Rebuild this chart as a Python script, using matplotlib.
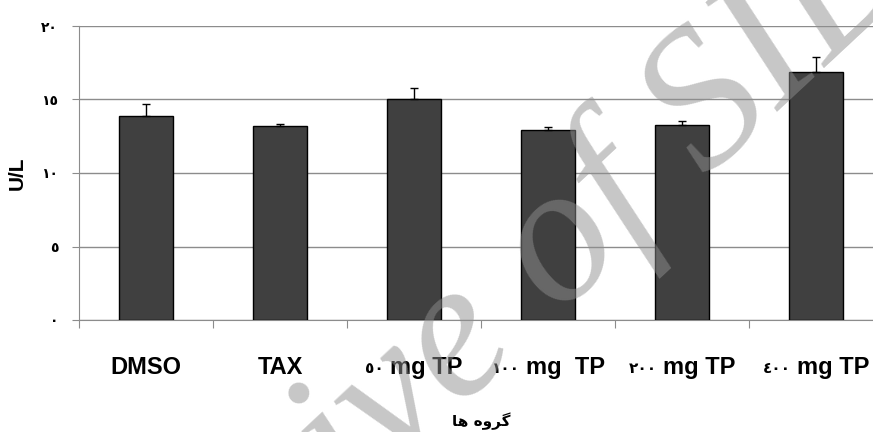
import numpy as np
import matplotlib.pyplot as plt
from matplotlib.transforms import offset_copy

# groups and enzyme activity (U/L), upper error only
groups = ["DMSO", "TAX", "٥٠ mg TP", "١٠٠ mg  TP", "٢٠٠ mg TP", "٤٠٠ mg TP"]
means = [13.9, 13.2, 15.0, 12.95, 13.25, 16.85]
errs = [0.8, 0.15, 0.75, 0.15, 0.3, 1.05]
yticks = [0, 5, 10, 15, 20]
ytick_labels = ["٠", "٥", "١٠", "١٥", "٢٠"]

# "گروه ها" written in visual order with presentation forms (no shaping in mpl)
xtitle = "\uFE8E\uFEEB \uFEE9\uFEED\uFEAE\uFB94"

grid_col = "#8c8c8c"
bar_col = "#404040"
arabic_digits = "٠١٢٣٤٥٦٧٨٩"

fig = plt.figure(figsize=(8.73, 4.32), dpi=100)
ax = fig.add_axes([79 / 873, 1 - 320 / 432, 804 / 873, 294 / 432])

x = np.arange(len(groups))
ax.bar(x, means, width=0.4, color=bar_col, edgecolor="black", linewidth=1, zorder=3)
ax.errorbar(x, means, yerr=[np.zeros(len(errs)), errs], fmt="none",
            ecolor="black", elinewidth=1, capsize=3, capthick=1, zorder=4)

ax.set_xlim(-0.5, 5.5)
ax.set_ylim(0, 20)
ax.set_yticks(yticks)
ax.set_yticklabels(ytick_labels, fontsize=10, fontweight="bold", family="DejaVu Sans")
ax.yaxis.grid(True, color=grid_col, linewidth=1, zorder=0)
ax.tick_params(axis="y", length=5, color=grid_col, pad=10)

# category boundary ticks, labels drawn by hand below
ax.set_xticks(np.arange(-0.5, 5.6, 1))
ax.set_xticklabels([])
ax.tick_params(axis="x", length=6, color=grid_col)

for s in ["top", "right"]:
    ax.spines[s].set_visible(False)
for s in ["left", "bottom"]:
    ax.spines[s].set_color(grid_col)

# group labels: small arabic-indic number + bold latin text, centred under bar
trans = ax.get_xaxis_transform()
renderer = fig.canvas.get_renderer()
gap = 6
for xi, lab in zip(x, groups):
    if lab[0] in arabic_digits:
        num, rest = lab.split(" ", 1)
    else:
        num, rest = "", lab
    t1 = ax.text(xi, -0.16, rest, transform=trans, fontsize=17, fontweight="bold",
                 family="Liberation Sans", ha="left", va="center")
    w1 = t1.get_window_extent(renderer).width
    w2 = 0
    if num:
        t2 = ax.text(xi, -0.165, num, transform=trans, fontsize=11, fontweight="bold",
                     family="DejaVu Sans", ha="right", va="center")
        w2 = t2.get_window_extent(renderer).width + gap
    left = -(w1 + w2) / 2
    t1.set_transform(offset_copy(trans, fig=fig, x=left + w2, y=0, units="dots"))
    if num:
        t2.set_transform(offset_copy(trans, fig=fig, x=left + w2 - gap, y=0, units="dots"))

ax.set_ylabel("U/L", fontsize=15, fontweight="bold", family="Liberation Sans")
ax.yaxis.set_label_coords(-0.077, 0.5)
ax.yaxis.label.set_va("center")
ax.set_xlabel(xtitle, fontsize=11, fontweight="bold", family="DejaVu Sans")
ax.xaxis.set_label_coords(0.5, -0.344)
ax.xaxis.label.set_va("center")

# watermark
fig.text(0.544, 0.218, "Archive of SID", rotation=43, fontsize=142,
         family="Liberation Serif", style="italic", color="#8f8f8f", alpha=0.5,
         ha="center", va="center", zorder=10)

fig.savefig("out.png", dpi=100)
